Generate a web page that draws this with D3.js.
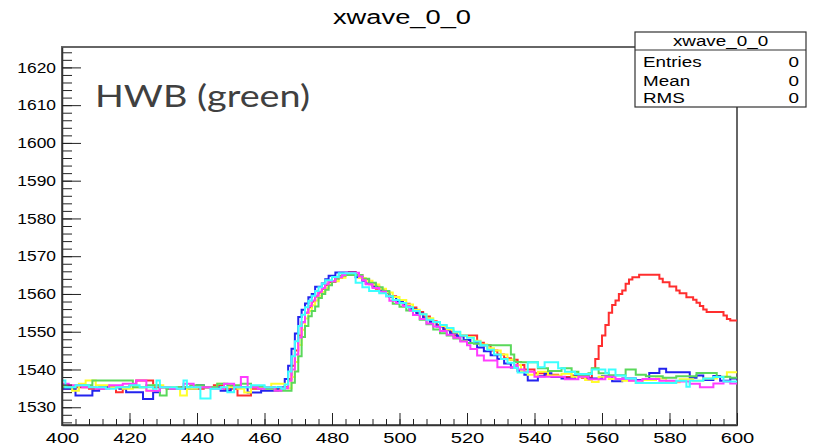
<!DOCTYPE html>
<html>
<head>
<meta charset="utf-8">
<script src="https://cdn.jsdelivr.net/npm/d3@7"></script>
<style>
  body { margin: 0; background: #fff; }
  svg { display: block; font-family: "Liberation Sans", Arial, sans-serif; }
</style>
</head>
<body>
<div class="container"></div>
<script>
var WIDTH = 813;
var HEIGHT = 446;

// histogram title + stats box
var title = 'xwave_0_0';
var statsLabels = ['Entries', 'Mean', 'RMS'];
var statsValues = ['0', '0', '0'];
var note = 'HWB (green)';

var xTicks = [400, 420, 440, 460, 480, 500, 520, 540, 560, 580, 600];
var yTicks = [1530, 1540, 1550, 1560, 1570, 1580, 1590, 1600, 1610, 1620];
var xRange = [400, 600];
var yRange = [1525.3, 1625.4];

// each series: [bin low edge, content] where the step level changes (bins are 1 wide)
var red = [[400,1534.9],[404,1535.3],[408,1534.9],[413,1535.3],[416,1534.0],[418,1535.3],[420,1535.8],[422,1537.1],[427,1535.3],[431,1534.9],[435,1535.3],[438,1534.9],[442,1535.3],[445,1535.8],[448,1534.9],[452,1533.1],[456,1534.9],[459,1535.3],[463,1534.9],[466,1535.3],[467,1537.5],[468,1541],[469,1545],[470,1549],[471,1552.5],[472,1555.0],[473,1556.5],[474,1558.0],[475,1559.3],[476,1560.4],[477,1561.4],[478,1562.4],[479,1563.2],[481,1564.2],[483,1565.0],[485,1565.8],[487,1565.0],[489,1563.8],[491,1562.6],[493,1561.4],[495,1560.4],[497,1559.4],[499,1558.4],[501,1557.4],[503,1556.4],[505,1555.2],[507,1554.0],[509,1552.8],[511,1551.8],[513,1550.8],[515,1550.0],[516,1549.0],[523,1547.1],[525,1546.4],[527,1545.0],[529,1544.0],[531,1543.0],[533,1542.6],[535,1541.2],[537,1540.0],[540,1539.0],[543,1538.6],[547,1538.0],[551,1538.4],[554,1537.8],[557,1540.2],[558,1542.8],[559,1546.2],[560,1549.0],[561,1551.8],[562,1555.0],[563,1557.1],[564,1558.3],[565,1560.0],[566,1560.9],[567,1562.7],[568,1563.8],[569,1564.4],[571,1565.1],[577,1564.0],[578,1563.1],[580,1562.0],[582,1560.9],[583,1560.2],[585,1559.1],[587,1558.5],[588,1557.7],[589,1556.8],[590,1555.9],[591,1555.2],[596,1554.3],[597,1553.4],[598,1553.0]];

var blue = [[400,1534.9],[404,1533.1],[409,1534.4],[411,1535.3],[417,1534.9],[419,1534.0],[424,1532.2],[427,1534.0],[429,1535.3],[436,1534.9],[440,1535.8],[442,1535.3],[447,1534.4],[450,1535.3],[455,1533.9],[459,1534.4],[464,1535.3],[466,1537.5],[467,1541],[468,1545.5],[469,1549.5],[470,1553.9],[471,1555.8],[472,1557.5],[473,1559.1],[474,1560.0],[475,1561.9],[477,1562.8],[478,1563.9],[479,1564.8],[481,1565.7],[487,1564.4],[489,1563.5],[490,1562.8],[492,1562.0],[494,1561.0],[496,1560.2],[497,1559.2],[499,1558.0],[501,1557.0],[503,1556.0],[505,1554.8],[507,1553.6],[509,1552.6],[511,1551.4],[513,1550.4],[515,1549.6],[517,1548.8],[519,1547.8],[521,1547.0],[523,1545.8],[525,1544.8],[527,1543.8],[529,1542.8],[531,1541.6],[533,1540.5],[535,1539.6],[537,1538.6],[538,1537.1],[541,1538.2],[543,1539.0],[545,1538.0],[548,1537.6],[552,1538.3],[556,1537.6],[560,1538.2],[563,1536.9],[566,1537.6],[570,1537.2],[574,1539.1],[577,1540.2],[579,1539.3],[586,1537.8],[588,1538.4],[590,1537.2],[593,1538.3],[595,1537.0],[598,1537.6]];

var yellow = [[400,1535.8],[403,1534.4],[405,1536.2],[407,1537.1],[410,1535.8],[414,1535.3],[418,1534.9],[421,1535.3],[425,1534.4],[427,1535.8],[430,1535.3],[435,1533.1],[437,1534.9],[440,1535.3],[446,1536.2],[448,1535.3],[452,1534.9],[454,1533.9],[456,1535.3],[462,1536.2],[466,1535.0],[468,1538],[469,1542],[470,1546.5],[471,1550.5],[472,1553.5],[473,1555.5],[474,1557.0],[475,1558.3],[476,1559.5],[477,1560.5],[478,1561.6],[479,1562.6],[480,1563.4],[482,1564.3],[484,1565.1],[488,1564.2],[490,1563.5],[492,1562.5],[494,1561.4],[496,1560.4],[498,1559.2],[500,1558.4],[502,1557.2],[504,1555.8],[506,1554.6],[508,1553.6],[510,1552.5],[512,1551.5],[514,1550.6],[516,1549.8],[518,1549.0],[520,1548.6],[522,1547.6],[524,1546.6],[526,1545.6],[528,1545.0],[530,1544.0],[532,1542.6],[534,1541.2],[536,1539.6],[538,1538.6],[541,1539.4],[544,1538.4],[548,1538.9],[551,1538.1],[555,1537.2],[557,1536.7],[559,1538.1],[562,1537.5],[566,1537.0],[570,1536.4],[572,1537.2],[576,1537.6],[579,1536.6],[583,1537.4],[587,1537.0],[590,1537.6],[594,1538.0],[597,1539.3]];

var green = [[400,1535.3],[404,1535.8],[409,1537.1],[421,1535.3],[425,1535.8],[429,1533.1],[431,1534.9],[434,1535.3],[438,1535.8],[442,1535.3],[446,1536.2],[449,1535.8],[453,1536.2],[456,1535.5],[460,1534.9],[463,1534.4],[468,1536.5],[469,1539.5],[470,1543.5],[471,1548.6],[472,1551.5],[473,1554.1],[474,1555.5],[475,1556.7],[476,1558.9],[477,1560.0],[478,1561.1],[479,1562.3],[480,1563.3],[481,1564.0],[482,1564.8],[484,1565.0],[489,1564.0],[491,1563.0],[493,1561.8],[495,1560.8],[497,1559.4],[498,1557.4],[500,1556.6],[502,1555.6],[504,1554.4],[506,1553.2],[508,1552.0],[510,1550.6],[512,1549.6],[514,1549.0],[516,1548.2],[518,1547.6],[520,1547.0],[522,1546.8],[524,1546.4],[533,1544.0],[534,1542.0],[536,1541.9],[541,1540.3],[544,1539.6],[548,1540.3],[551,1539.4],[553,1538.5],[556,1539.0],[557,1540.3],[559,1539.0],[562,1538.5],[567,1540.0],[570,1538.6],[573,1538.2],[578,1537.8],[582,1538.2],[588,1539.1],[594,1538.1],[598,1537.8]];

var magenta = [[400,1536.2],[402,1535.8],[406,1535.3],[410,1534.9],[414,1535.8],[418,1536.2],[422,1537.1],[425,1534.4],[429,1535.3],[432,1534.9],[436,1536.2],[439,1535.3],[444,1534.9],[448,1536.2],[451,1535.3],[453,1538.0],[455,1535.3],[458,1534.9],[460,1535.3],[463,1534.4],[465,1535.0],[467,1537.0],[468,1540],[469,1544],[470,1548.5],[471,1552.5],[472,1555.0],[473,1556.8],[474,1558.3],[475,1559.5],[476,1560.6],[477,1561.6],[478,1562.6],[479,1563.4],[481,1564.4],[483,1565.0],[484,1565.6],[488,1564.6],[489,1563.6],[490,1562.6],[492,1561.6],[494,1560.6],[496,1559.4],[497,1558.2],[499,1557.6],[501,1556.8],[503,1555.6],[504,1554.4],[506,1553.4],[508,1552.2],[510,1551.4],[512,1550.2],[514,1549.2],[516,1548.4],[518,1547.4],[520,1546.4],[521,1545.4],[523,1543.7],[525,1542.4],[529,1540.6],[534,1541.2],[535,1540.0],[537,1539.4],[540,1538.1],[549,1537.4],[553,1538.1],[556,1537.4],[561,1538.1],[564,1537.5],[568,1537.0],[572,1537.5],[577,1537.0],[582,1536.8],[586,1536.2],[589,1535.3],[593,1536.3],[596,1536.8],[598,1536.3]];

var cyan = [[400,1537.1],[401,1535.3],[404,1535.8],[408,1535.3],[413,1534.9],[416,1535.3],[420,1535.8],[423,1535.3],[427,1534.9],[428,1537.1],[429,1535.3],[434,1534.9],[436,1537.1],[437,1535.3],[441,1532.3],[444,1534.9],[447,1535.3],[449,1534.0],[451,1535.3],[456,1535.8],[460,1535.3],[465,1534.9],[466,1536.0],[467,1539.5],[468,1543.5],[469,1547.5],[470,1551.5],[471,1554.5],[472,1556.5],[473,1558.2],[474,1559.5],[475,1560.8],[476,1561.8],[477,1562.8],[478,1563.6],[480,1564.5],[482,1565.5],[487,1563.0],[489,1561.8],[491,1560.8],[494,1560.2],[496,1559.4],[498,1558.4],[500,1557.6],[502,1556.5],[504,1555.5],[506,1554.6],[508,1553.2],[510,1552.6],[512,1551.8],[514,1551.0],[516,1550.0],[518,1549.0],[520,1548.4],[522,1547.4],[524,1546.4],[526,1545.2],[528,1544.0],[530,1542.8],[532,1541.8],[534,1540.4],[535,1539.2],[538,1541.9],[541,1540.6],[543,1541.9],[547,1540.3],[549,1539.4],[552,1538.8],[557,1540.0],[561,1539.0],[562,1540.0],[564,1538.4],[567,1537.6],[570,1536.4],[582,1537.0],[585,1535.4],[586,1537.0],[590,1537.6],[593,1538.0],[596,1536.8]];

var seriesList = [red, blue, yellow, green, magenta, cyan];
var seriesColors = ['#ff2e2e', '#2323ee', '#ffff2a', '#5ad85a', '#ff3cff', '#3cffff'];

var translate = function (x, y) {
  return 'translate(' + x + ',' + y + ')';
};

var loadChart = function() {
  var left = 62, right = 737, top = 47, bottom = 425;

  var xScale = d3.scaleLinear().domain(xRange).range([left, right]);
  var yScale = d3.scaleLinear().domain(yRange).range([bottom, top]);

  var svg = d3.select('.container').append('svg')
      .attr('width', WIDTH)
      .attr('height', HEIGHT);

  svg.append('rect').attr('width', WIDTH).attr('height', HEIGHT).attr('fill', '#fff');

  // frame
  svg.append('rect')
      .attr('x', left).attr('y', top)
      .attr('width', right - left).attr('height', bottom - top)
      .attr('fill', 'none')
      .attr('stroke', '#666')
      .attr('stroke-width', 2);

  // histograms
  var step = d3.line()
      .curve(d3.curveStepAfter)
      .x(function(d) { return xScale(d[0]); })
      .y(function(d) { return yScale(d[1]); });

  seriesList.forEach(function(s, i) {
    var pts = s.concat([[xRange[1], s[s.length - 1][1]]]);
    svg.append('path')
        .datum(pts)
        .attr('d', step)
        .attr('fill', 'none')
        .attr('stroke', seriesColors[i])
        .attr('stroke-width', 2)
        .attr('stroke-linejoin', 'miter');
  });

  // x axis
  var xMinor = d3.range(400, 601, 4);
  svg.append('g')
      .attr('transform', translate(0, bottom))
      .call(d3.axisBottom(xScale).tickValues(xMinor).tickSize(-6).tickSizeOuter(0).tickFormat(''))
      .call(function(g) { g.select('.domain').remove(); });

  var xAxisG = svg.append('g')
      .attr('transform', translate(0, bottom))
      .call(d3.axisBottom(xScale).tickValues(xTicks).tickSize(-12).tickSizeOuter(0).tickPadding(7).tickFormat(d3.format('d')));
  xAxisG.select('.domain').attr('stroke', '#333').attr('stroke-width', 1.5);
  xAxisG.selectAll('text')
      .attr('font-size', 15.5)
      .attr('font-family', '"Liberation Sans", Arial, sans-serif')
      .attr('fill', '#000')
      .attr('transform', 'scale(1.3,1)');

  // y axis
  var yMinor = d3.range(1526, 1625, 2);
  svg.append('g')
      .attr('transform', translate(left, 0))
      .call(d3.axisLeft(yScale).tickValues(yMinor).tickSize(-10).tickSizeOuter(0).tickFormat(''))
      .call(function(g) { g.select('.domain').remove(); });

  var yAxisG = svg.append('g')
      .attr('transform', translate(left, 0))
      .call(d3.axisLeft(yScale).tickValues(yTicks).tickSize(-19).tickSizeOuter(0).tickPadding(5).tickFormat(d3.format('d')));
  yAxisG.select('.domain').attr('stroke', '#333').attr('stroke-width', 1.5);
  yAxisG.selectAll('text')
      .attr('font-size', 14.5)
      .attr('font-family', '"Liberation Sans", Arial, sans-serif')
      .attr('fill', '#000')
      .attr('transform', 'scale(1.2,1)');
  svg.selectAll('.tick line').attr('stroke', '#222');

  // title
  svg.append('text')
      .attr('transform', translate(402, 24) + ' scale(1.3,1)')
      .attr('text-anchor', 'middle')
      .attr('font-size', 21)
      .text(title);

  // stats box
  var bx = 635, by = 32, bw = 171, bh = 75;
  var stats = svg.append('g');
  stats.append('rect')
      .attr('x', bx).attr('y', by).attr('width', bw).attr('height', bh)
      .attr('fill', '#fff').attr('stroke', '#333').attr('stroke-width', 1.2);
  stats.append('line')
      .attr('x1', bx).attr('x2', bx + bw).attr('y1', 50).attr('y2', 50)
      .attr('stroke', '#333').attr('stroke-width', 1.2);
  stats.append('text')
      .attr('transform', translate(bx + bw / 2, 46) + ' scale(1.3,1)')
      .attr('text-anchor', 'middle')
      .attr('font-size', 14.5)
      .text(title);
  var rowY = [66.5, 85.5, 103];
  statsLabels.forEach(function(lab, i) {
    stats.append('text')
        .attr('transform', translate(bx + 8, rowY[i]) + ' scale(1.3,1)')
        .attr('font-size', 14.5)
        .text(lab);
    stats.append('text')
        .attr('transform', translate(bx + bw - 7, rowY[i]) + ' scale(1.3,1)')
        .attr('text-anchor', 'end')
        .attr('font-size', 14.5)
        .text(statsValues[i]);
  });

  // annotation
  svg.append('text')
      .attr('x', 95).attr('y', 107)
      .attr('font-family', 'Lato, "Open Sans", sans-serif')
      .attr('font-size', 31)
      .attr('fill', '#404040')
      .attr('textLength', 215)
      .attr('lengthAdjust', 'spacingAndGlyphs')
      .text(note);
};

window.onload = loadChart;
</script>
</body>
</html>
